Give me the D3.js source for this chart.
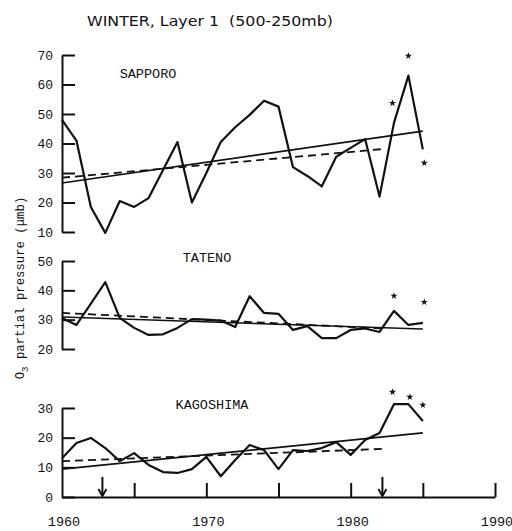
<!DOCTYPE html>
<html>
<head>
<meta charset="utf-8">
<script src="https://cdn.jsdelivr.net/npm/d3@7"></script>
<style>
  body { margin: 0; background: #fff; }
  text { fill: #111; }
</style>
</head>
<body>
<script>
// winter layer 1 ozone, three stations
var years = d3.range(1960, 1986);

var sapporo = [48, 41, 18.5, 9.7, 20.5, 18.5, 21.5, 31, 40.5, 20, 30, 40.5, 45.5,
               49.7, 54.5, 52.5, 32, 29, 25.5, 35.5, 38.5, 41.5, 22, 47, 63, 38];
var tateno = [30.6, 28.2, 35.5, 42.8, 30.6, 27.2, 24.8, 25, 27.2, 30.2, 30, 29.7, 27.5,
              38, 32.3, 32, 26.5, 27.8, 23.7, 23.7, 26.5, 27, 25.8, 33, 28.2, 28.9];
var kagoshima = [13.1, 18.2, 19.9, 16.5, 12.1, 14.8, 10.8, 8.4, 8.1, 9.4, 13.5, 7, 12.5,
                 17.5, 15.8, 9.4, 15.8, 15.5, 16.5, 18.5, 14.2, 19.2, 21.6, 31.3, 31.3, 25.6];

// trend lines: [year0, value0, year1, value1]
var solidTrend = { SAPPORO: [1960, 26.6, 1985, 44.2], TATENO: [1960, 30.9, 1985, 26.8], KAGOSHIMA: [1960, 9.4, 1985, 21.6] };
var dashTrend = { SAPPORO: [1960, 28.4, 1982.2, 38.1], TATENO: [1960, 32.3, 1982.2, 27.0], KAGOSHIMA: [1960, 12.1, 1982.2, 16.2] };

// asterisks: [year, value]
var stars = {
  SAPPORO: [[1982.9, 53.7], [1984, 69.7], [1985.1, 33.4]],
  TATENO: [[1983, 38.1], [1985.1, 36]],
  KAGOSHIMA: [[1982.9, 35.4], [1984.1, 33.7], [1985, 31]]
};

var xTicks = [1965, 1970, 1975, 1980, 1985, 1990];
var xLabels = [1960, 1970, 1980, 1990];
var arrowYears = [1962.8, 1982.2];

var width = 512, height = 531;

var svg = d3.select("body").append("svg")
    .attr("width", width)
    .attr("height", height);

var x = d3.scaleLinear().domain([1960, 1990]).range([62, 495]);

var panels = [
  { name: "SAPPORO", values: sapporo, domain: [10, 70], range: [232, 55], lx: 148, ly: 78 },
  { name: "TATENO", values: tateno, domain: [20, 50], range: [349, 261], lx: 207, ly: 262 },
  { name: "KAGOSHIMA", values: kagoshima, domain: [0, 30], range: [497, 408], lx: 212, ly: 409 }
];

var mono = "'Liberation Mono', 'DejaVu Sans Mono', monospace";

//title
svg.append("text")
    .attr("x", 87).attr("y", 26)
    .attr("textLength", 246).attr("lengthAdjust", "spacingAndGlyphs")
    .style("font-family", "'DejaVu Sans', sans-serif")
    .style("font-size", "13.5px")
    .style("white-space", "pre")
    .text("WINTER, Layer 1  (500-250mb)");

//y axis label
var yl = svg.append("text")
    .attr("transform", "translate(24,288) rotate(-90)")
    .attr("text-anchor", "middle")
    .style("font-family", mono)
    .style("font-size", "12.3px");
yl.append("tspan").text("O");
yl.append("tspan").attr("dy", 4).style("font-size", "9px").text("3");
yl.append("tspan").attr("dy", -4).text(" partial pressure (\u03bcmb)");

var star = d3.symbol().type(d3.symbolStar).size(16);

panels.forEach(function(p){
    var y = d3.scaleLinear().domain(p.domain).range(p.range);

    var axis = d3.axisLeft(y)
        .tickValues(d3.range(p.domain[0], p.domain[1] + 1, 10))
        .tickSize(-13).tickSizeOuter(0).tickPadding(9)
        .tickFormat(d3.format("d"));
    var g = svg.append("g")
        .attr("transform", "translate(" + x(1960) + ",0)")
        .call(axis);
    g.select(".domain").attr("stroke", "#111").attr("stroke-width", 2);
    g.selectAll(".tick line").attr("stroke", "#111").attr("stroke-width", 2);
    g.selectAll(".tick text")
        .style("font-family", mono).style("font-size", "13px").attr("fill", "#111");

    svg.append("text")
        .attr("x", p.lx).attr("y", p.ly)
        .attr("text-anchor", "middle")
        .style("font-family", mono).style("font-size", "13.5px")
        .text(p.name);

    var line = d3.line()
        .x(function(d, i){ return x(years[i]); })
        .y(function(d){ return y(d); });
    svg.append("path")
        .datum(p.values)
        .attr("fill", "none").attr("stroke", "#111")
        .attr("stroke-width", 2.2).attr("stroke-linejoin", "round")
        .attr("d", line);

    var s = solidTrend[p.name], t = dashTrend[p.name];
    svg.append("line")
        .attr("x1", x(s[0])).attr("y1", y(s[1]))
        .attr("x2", x(s[2])).attr("y2", y(s[3]))
        .attr("stroke", "#111").attr("stroke-width", 1.6);
    svg.append("line")
        .attr("x1", x(t[0])).attr("y1", y(t[1]))
        .attr("x2", x(t[2])).attr("y2", y(t[3]))
        .attr("stroke", "#111").attr("stroke-width", 1.8)
        .attr("stroke-dasharray", "8,5");

    svg.selectAll(null)
        .data(stars[p.name])
        .enter().append("path")
        .attr("transform", function(d){ return "translate(" + x(d[0]) + "," + y(d[1]) + ")"; })
        .attr("d", star)
        .attr("fill", "#111");
});

//x axis
var y0 = 497;
var xAxis = d3.axisBottom(x)
    .tickValues(xTicks)
    .tickSize(-14).tickSizeOuter(0)
    .tickFormat("");
var xg = svg.append("g")
    .attr("transform", "translate(0," + y0 + ")")
    .call(xAxis);
xg.select(".domain").attr("stroke", "#111").attr("stroke-width", 2);
xg.selectAll(".tick line").attr("stroke", "#111").attr("stroke-width", 2);

svg.selectAll(".xlab")
    .data(xLabels)
    .enter().append("text")
    .attr("class", "xlab")
    .attr("x", function(d){ return x(d) + 2; })
    .attr("y", 526)
    .attr("text-anchor", "middle")
    .style("font-family", mono).style("font-size", "13.5px")
    .text(function(d){ return d; });

//arrows
arrowYears.forEach(function(a){
    var ax = x(a);
    svg.append("line")
        .attr("x1", ax).attr("y1", 477).attr("x2", ax).attr("y2", y0 - 2)
        .attr("stroke", "#111").attr("stroke-width", 2);
    svg.append("path")
        .attr("d", "M" + (ax - 4) + "," + (y0 - 8) + "L" + ax + "," + (y0 - 1) + "L" + (ax + 4) + "," + (y0 - 8))
        .attr("fill", "none").attr("stroke", "#111").attr("stroke-width", 2);
});
</script>
</body>
</html>
